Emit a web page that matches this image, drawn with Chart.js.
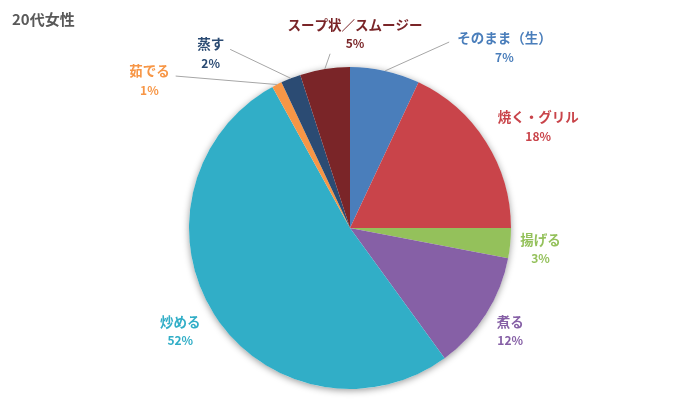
<!DOCTYPE html>
<html>
<head>
<meta charset="utf-8">
<script src="https://cdn.jsdelivr.net/npm/chart.js@4/dist/chart.umd.min.js"></script>
<style>
  body { margin: 0; background: #fff; }
  #wrap { width: 700px; height: 420px; }
</style>
</head>
<body>
<div id="wrap"><canvas id="pie" width="700" height="420"></canvas></div>
<script>
// Data
const chartTitle = "20代女性";
const categories = ["そのまま（生）", "焼く・グリル", "揚げる", "煮る", "炒める", "茹でる", "蒸す", "スープ状／スムージー"];
const shares = [7, 18, 3, 12, 52, 1, 2, 5];
const sliceColors = ["#4a7ebb", "#c9444a", "#94c15b", "#8660a6", "#31aec7", "#f79646", "#2b4b73", "#7a2528"];

// Where each label sits: angle (deg clockwise from top) and distance in radii
const labelAngles = [40.4, 61.5, 96, 122.5, 239, 306.5, 321.5, 1.5];
const labelDists = [1.48, 1.33, 1.19, 1.18, 1.23, 1.55, 1.39, 1.21];
const leaders = ["side", null, null, null, null, "side", "side", "below"];

const FONT = '"Noto Sans CJK JP", "Noto Sans", sans-serif';

// Soft shadow behind the pie
const pieShadow = {
    id: "pieShadow",
    beforeDatasetsDraw(chart) {
        const arc = chart.getDatasetMeta(0).data[0];
        if (!arc) return;
        const ctx = chart.ctx;
        ctx.save();
        ctx.beginPath();
        ctx.arc(arc.x, arc.y, arc.outerRadius, 0, Math.PI * 2);
        ctx.shadowColor = "rgba(0,0,0,0.4)";
        ctx.shadowBlur = 7;
        ctx.shadowOffsetY = 1.5;
        ctx.fillStyle = "#fff";
        ctx.fill();
        ctx.restore();
    }
};

// Title and data labels with leader lines
const pieLabels = {
    id: "pieLabels",
    afterDraw(chart) {
        const ctx = chart.ctx;
        ctx.save();
        ctx.font = "bold 15px " + FONT;
        ctx.fillStyle = "#595959";
        ctx.textAlign = "left";
        ctx.textBaseline = "middle";
        ctx.fillText(chartTitle, 12, 19);

        const meta = chart.getDatasetMeta(0);
        meta.data.forEach((arc, i) => {
            const r = arc.outerRadius;
            const a = labelAngles[i] * Math.PI / 180;
            const lx = arc.x + Math.sin(a) * r * labelDists[i];
            const ly = arc.y - Math.cos(a) * r * labelDists[i] + 1;
            const nameY = ly - 9.5;
            const pctY = ly + 9.5;

            ctx.font = "bold 13.5px " + FONT;
            const w = ctx.measureText(categories[i]).width;

            if (leaders[i]) {
                const mid = (arc.startAngle + arc.endAngle) / 2;
                const sx = arc.x + Math.cos(mid) * r;
                const sy = arc.y + Math.sin(mid) * r;
                let ex, ey;
                if (leaders[i] === "below") {
                    ex = lx - 25;
                    ey = pctY + 10;
                } else if (lx > arc.x) {
                    ex = lx - w / 2 - 8;
                    ey = nameY + 4;
                } else {
                    ex = lx + w / 2 + 6;
                    ey = nameY + 5;
                }
                ctx.beginPath();
                ctx.moveTo(sx, sy);
                ctx.lineTo(ex, ey);
                ctx.strokeStyle = "#a6a6a6";
                ctx.lineWidth = 1;
                ctx.stroke();
            }

            ctx.fillStyle = sliceColors[i];
            ctx.textAlign = "center";
            ctx.textBaseline = "middle";
            ctx.fillText(categories[i], lx, nameY);
            ctx.font = "bold 12px " + FONT;
            ctx.fillText(shares[i] + "%", lx, pctY);
        });
        ctx.restore();
    }
};

new Chart(document.getElementById("pie"), {
    type: "pie",
    data: {
        labels: categories,
        datasets: [
            {
                data: shares,
                backgroundColor: sliceColors,
                borderWidth: 0,
            },
        ],
    },
    options: {
        responsive: false,
        animation: false,
        layout: { padding: { top: 67, bottom: 31, left: 0, right: 0 } },
        plugins: {
            legend: { display: false },
            tooltip: { enabled: false },
        },
    },
    plugins: [pieShadow, pieLabels],
});
</script>
</body>
</html>
